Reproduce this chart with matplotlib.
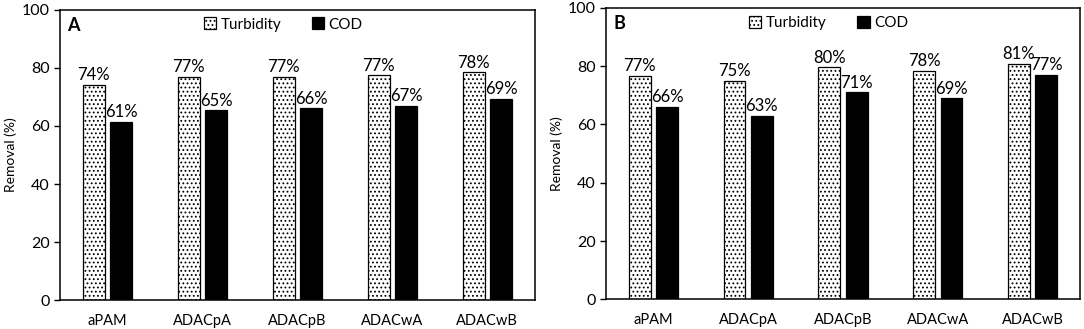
import numpy as np
import matplotlib
matplotlib.use("Agg")
import matplotlib.pyplot as plt

plt.rcParams['font.family'] = ['Lato', 'DejaVu Sans']
plt.rcParams['hatch.linewidth'] = 0.8

categories = ["aPAM", "ADACpA", "ADACpB", "ADACwA", "ADACwB"]
turb_a = [74.0, 76.8, 76.8, 77.4, 78.4]
cod_a = [61.3, 65.3, 66.0, 67.0, 69.4]
turb_b = [76.8, 75.0, 79.6, 78.4, 80.8]
cod_b = [66.0, 63.0, 71.0, 69.0, 77.0]
panels = ["A", "B"]


def draw_panel(ax, turb, cod, letter):
    x = np.arange(len(categories))
    w = 0.23
    off = 0.145
    b1 = ax.bar(x - off, turb, w, color="white", edgecolor="black",
                hatch="....", linewidth=0.9, label="Turbidity")
    b2 = ax.bar(x + off, cod, w, color="black", edgecolor="black",
                linewidth=0.9, label="COD")
    for bars, vals in ((b1, turb), (b2, cod)):
        for r, v in zip(bars, vals):
            ax.text(r.get_x() + r.get_width() / 2, v + 0.6, f"{v:.0f}%",
                    ha="center", va="bottom", fontsize=12)
    ax.set_xlim(-0.5, len(categories) - 0.5)
    ax.set_ylim(0, 100)
    ax.set_yticks(range(0, 101, 20))
    ax.set_xticks(x)
    ax.set_xticklabels(categories, fontsize=10.5)
    ax.tick_params(axis="x", length=0, pad=10)
    ax.tick_params(axis="y", direction="out", length=4, labelsize=11.5, width=1)
    ax.set_ylabel("Removal (%)", fontsize=10, labelpad=3)
    for s in ax.spines.values():
        s.set_linewidth(1.1)
    ax.text(0.015, 0.975, letter, transform=ax.transAxes, fontsize=13,
            fontweight="bold", ha="left", va="top")
    ax.legend(loc="upper center", bbox_to_anchor=(0.47, 1.02), ncol=2,
              frameon=False, fontsize=11, handlelength=0.8, handleheight=0.8,
              handletextpad=0.3, columnspacing=2.0)


fig = plt.figure(figsize=(10.84, 3.29), dpi=100)
ax1 = fig.add_axes([0.0554, 0.087, 0.438, 0.884])
ax2 = fig.add_axes([0.559, 0.090, 0.4373, 0.886])
draw_panel(ax1, turb_a, cod_a, panels[0])
draw_panel(ax2, turb_b, cod_b, panels[1])

fig.savefig("out.png", dpi=100)
